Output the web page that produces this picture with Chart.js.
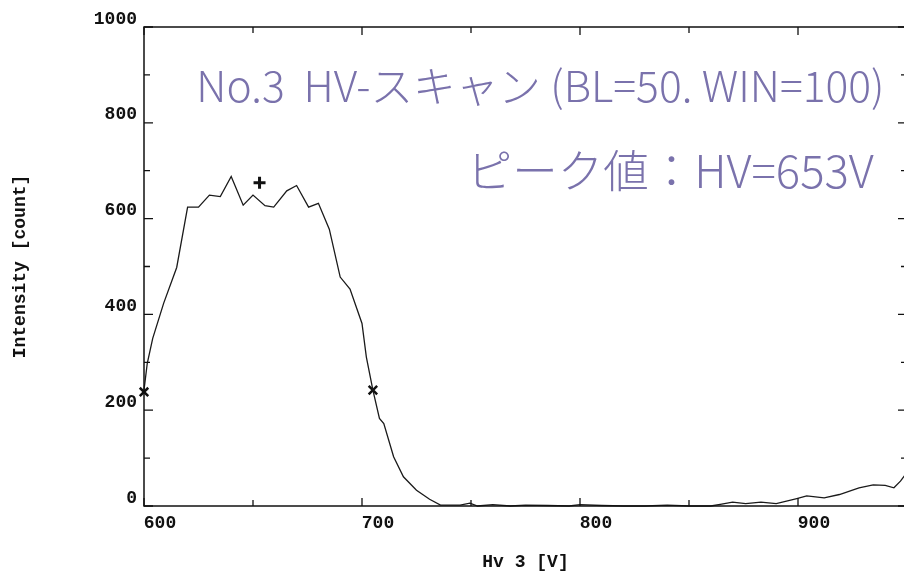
<!DOCTYPE html>
<html>
<head>
<meta charset="utf-8">
<script src="https://cdn.jsdelivr.net/npm/chart.js@4.4.1/dist/chart.umd.min.js"></script>
<style>
  html, body { margin: 0; padding: 0; background: #fff; overflow: hidden; }
  #wrap { width: 916px; height: 579px; }
</style>
</head>
<body>
<div id="wrap"><canvas id="hvChart" width="916" height="579"></canvas></div>
<script>
// HV scan
const hvVolts = [600, 601.5, 604, 609, 615, 620, 625, 630, 635, 640, 645.5, 650, 655.5, 659.5, 665.5, 670,
  675.5, 680, 685, 690, 694.5, 700, 702, 705, 708, 710, 714.5, 719, 725, 731, 736, 745, 749.5, 753,
  760, 768, 775, 785, 795, 800, 810, 820, 830, 840, 850, 855, 860, 865, 870, 876, 883, 890, 899, 904,
  912, 919, 928, 934.5, 940, 944, 947, 950];
const counts = [242, 298, 350, 423, 498, 624, 624, 649, 646, 688, 628, 649, 627, 624, 658, 669,
  624, 632, 578, 478, 453, 381, 311, 242, 183, 172, 103, 61, 33, 14, 2, 2, 6, 0,
  3, 0, 2, 1, 0, 3, 1, 0, 0, 2, 0, 0, 0, 4, 8, 5, 8, 5, 15, 21,
  17, 24, 38, 44, 43, 38, 52, 70];

const peakHv = [653];
const peakCount = [675];
const halfHv = [600, 705];
const halfCount = [238, 242];

const xTitle = 'Hv 3 [V]';
const yTitle = 'Intensity [count]';
const noteLines = ['No.3  HV-スキャン (BL=50. WIN=100)', 'ピーク値：HV=653V'];

const monoFont = { family: '"Liberation Mono", "DejaVu Sans Mono", monospace', size: 18, weight: 'bold' };

// frame + inward tick marks like the old plotter output
const frameTicks = {
  id: 'frameTicks',
  afterDatasetsDraw(chart) {
    const { ctx, chartArea: a, scales: { x, y } } = chart;
    ctx.save();
    ctx.strokeStyle = '#111';
    ctx.lineWidth = 1.5;
    ctx.strokeRect(a.left, a.top, a.right - a.left, a.bottom - a.top);
    ctx.lineWidth = 1.3;
    ctx.beginPath();
    x.ticks.forEach((t) => {
      const px = x.getPixelForValue(t.value);
      const len = t.value % 100 === 0 ? 8 : 6;
      ctx.moveTo(px, a.bottom); ctx.lineTo(px, a.bottom - len);
      ctx.moveTo(px, a.top); ctx.lineTo(px, a.top + len);
    });
    y.ticks.forEach((t) => {
      const py = y.getPixelForValue(t.value);
      const len = t.value % 200 === 0 ? 9 : 6;
      ctx.moveTo(a.left, py); ctx.lineTo(a.left + len, py);
      ctx.moveTo(a.right, py); ctx.lineTo(a.right - len, py);
    });
    ctx.stroke();
    ctx.restore();
  }
};

// handwritten note on the sheet
const handNote = {
  id: 'handNote',
  afterDraw(chart) {
    const { ctx, scales: { x, y } } = chart;
    ctx.save();
    ctx.fillStyle = '#7a72ac';
    ctx.textBaseline = 'middle';
    const spots = [
      { x0: 624, x1: 940, v: 878 },
      { x0: 748, x1: 935, v: 700 }
    ];
    noteLines.forEach((txt, i) => {
      const s = spots[i];
      const left = x.getPixelForValue(s.x0);
      const w = x.getPixelForValue(s.x1) - left;
      ctx.font = '300 40px "Noto Sans CJK JP", sans-serif';
      const size = Math.min(50, 40 * w / ctx.measureText(txt).width);
      ctx.font = '300 ' + size.toFixed(1) + 'px "Noto Sans CJK JP", sans-serif';
      ctx.fillText(txt, left, y.getPixelForValue(s.v));
    });
    ctx.restore();
  }
};

new Chart(document.getElementById('hvChart'), {
  type: 'scatter',
  data: {
    datasets: [
      {
        label: 'Intensity',
        data: hvVolts.map((v, i) => ({ x: v, y: counts[i] })),
        showLine: true,
        borderColor: '#1a1a1a',
        borderWidth: 1.3,
        pointRadius: 0,
        tension: 0,
      },
      {
        label: 'Peak',
        data: peakHv.map((v, i) => ({ x: v, y: peakCount[i] })),
        pointStyle: 'cross',
        pointRadius: 6,
        borderColor: '#111',
        borderWidth: 3,
      },
      {
        label: 'Half',
        data: halfHv.map((v, i) => ({ x: v, y: halfCount[i] })),
        pointStyle: 'crossRot',
        pointRadius: 6,
        borderColor: '#111',
        borderWidth: 2.5,
      },
    ],
  },
  options: {
    responsive: false,
    animation: false,
    clip: false,
    layout: { padding: { top: 27, right: 3, left: 0, bottom: 0 } },
    plugins: {
      legend: { display: false },
      tooltip: { enabled: false },
    },
    scales: {
      x: {
        type: 'linear',
        min: 600,
        max: 950,
        afterFit: (scale) => {
          scale.height = 73;
          scale.paddingLeft = 0;
          scale.paddingRight = 0;
        },
        grid: { display: false, drawTicks: false },
        border: { display: false },
        ticks: {
          stepSize: 50,
          padding: 7,
          labelOffset: 16,
          maxRotation: 0,
          color: '#111',
          font: monoFont,
          callback: (v) => (v % 100 === 0 ? String(v) : ''),
        },
        title: {
          display: true,
          text: xTitle,
          color: '#111',
          font: monoFont,
          padding: { top: 0, bottom: 6 },
        },
      },
      y: {
        min: 0,
        max: 1000,
        afterFit: (scale) => {
          scale.width = 144;
          scale.paddingTop = 0;
          scale.paddingBottom = 0;
        },
        grid: { display: false, drawTicks: false },
        border: { display: false },
        ticks: {
          stepSize: 100,
          padding: 7,
          labelOffset: -8,
          color: '#111',
          font: monoFont,
          callback: (v) => (v % 200 === 0 ? String(v) : ''),
        },
        title: {
          display: true,
          text: yTitle,
          color: '#111',
          font: monoFont,
          padding: { top: 10, bottom: 0 },
        },
      },
    },
  },
  plugins: [frameTicks, handNote],
});
</script>
</body>
</html>
